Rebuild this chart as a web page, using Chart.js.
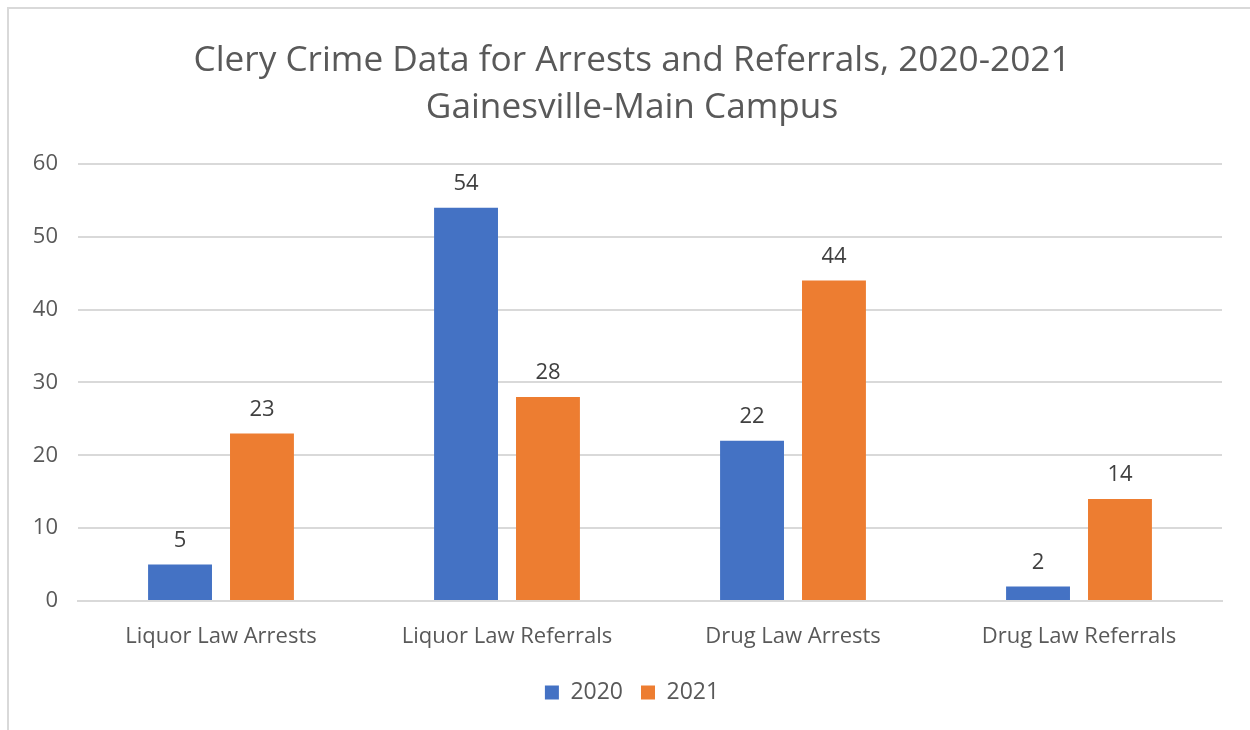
<!DOCTYPE html>
<html>
<head>
<meta charset="utf-8">
<script src="https://cdn.jsdelivr.net/npm/chart.js@4"></script>
<style>
  html, body { margin: 0; padding: 0; background: #fff; }
  #wrap { position: relative; width: 1250px; height: 730px; overflow: hidden; }
  #frame {
    position: absolute; left: 7px; top: 7px; width: 1260px; height: 740px;
    border-left: 2px solid #d9d9d9; border-top: 2px solid #d9d9d9;
    pointer-events: none;
  }
</style>
</head>
<body>
<div id="wrap">
  <canvas id="crime-chart" width="1264" height="730"></canvas>
  <div id="frame"></div>
</div>
<script>
// 카테고리
const categories = ['Liquor Law Arrests', 'Liquor Law Referrals', 'Drug Law Arrests', 'Drug Law Referrals'];
// 연도별 값
const values2020 = [5, 54, 22, 2];
const values2021 = [23, 28, 44, 14];
const seriesNames = ['2020', '2021'];
const titleLines = ['Clery Crime Data for Arrests and Referrals, 2020-2021', 'Gainesville-Main Campus'];

const FONT = "'Open Sans', sans-serif";
const GRAY = '#595959';

// 막대 위 값 표시
const valueLabels = {
  id: 'valueLabels',
  afterDatasetsDraw(chart) {
    const ctx = chart.ctx;
    ctx.save();
    ctx.font = '22px ' + FONT;
    ctx.fillStyle = '#404040';
    ctx.textAlign = 'center';
    ctx.textBaseline = 'middle';
    chart.data.datasets.forEach((ds, i) => {
      chart.getDatasetMeta(i).data.forEach((bar, j) => {
        ctx.fillText(String(ds.data[j]), bar.x, bar.y - 24);
      });
    });
    ctx.restore();
  },
};

Chart.defaults.font.family = FONT;
Chart.defaults.color = GRAY;

new Chart(document.getElementById('crime-chart'), {
  type: 'bar',
  data: {
    labels: categories,
    datasets: [
      {
        label: seriesNames[0],
        data: values2020,
        backgroundColor: '#4472c4',
        categoryPercentage: 0.573,
        barPercentage: 0.78,
      },
      {
        label: seriesNames[1],
        data: values2021,
        backgroundColor: '#ed7d31',
        categoryPercentage: 0.573,
        barPercentage: 0.78,
      },
    ],
  },
  options: {
    responsive: false,
    animation: false,
    layout: {
      padding: { left: 0, right: 0, top: 0, bottom: 16 },
    },
    plugins: {
      title: {
        display: true,
        text: titleLines,
        color: GRAY,
        font: { size: 35.2, weight: 'normal', lineHeight: 1.335 },
        padding: { top: 37, bottom: 33 },
      },
      legend: {
        position: 'bottom',
        labels: {
          boxWidth: 14,
          boxHeight: 14,
          padding: 18,
          color: GRAY,
          font: { size: 23 },
        },
      },
      tooltip: { enabled: false },
    },
    scales: {
      x: {
        grid: { display: false },
        border: { color: '#d9d9d9', width: 2 },
        ticks: { padding: 15, color: GRAY, font: { size: 22 } },
        afterFit(scale) { scale.height = 62; },
      },
      y: {
        min: 0,
        max: 60,
        ticks: { stepSize: 10, padding: 20, color: GRAY, font: { size: 22 } },
        grid: { color: '#d9d9d9', lineWidth: 2, drawTicks: false },
        border: { display: false },
        afterFit(scale) { scale.width = 78; },
      },
      // 오른쪽 여백용 빈 축
      spacer: {
        type: 'linear',
        position: 'right',
        grid: { display: false, drawTicks: false },
        border: { display: false },
        ticks: { display: false },
        afterFit(scale) { scale.width = 42; },
      },
    },
  },
  plugins: [valueLabels],
});
</script>
</body>
</html>
